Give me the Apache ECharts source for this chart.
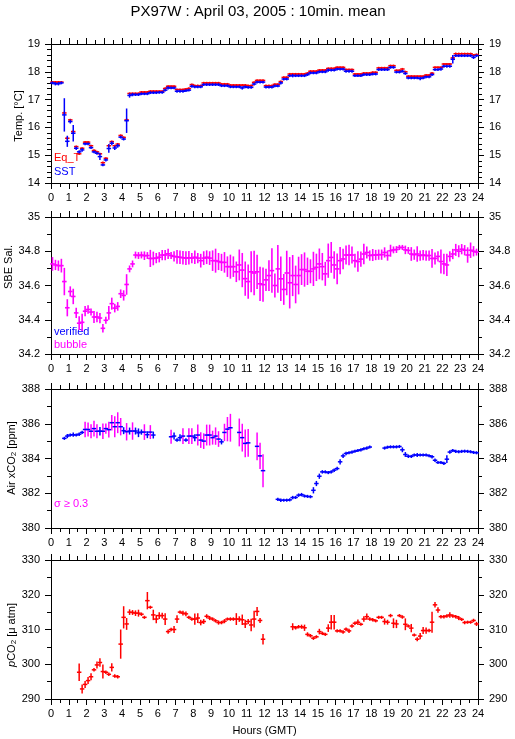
<!DOCTYPE html>
<html><head><meta charset="utf-8">
<script src="https://cdn.jsdelivr.net/npm/echarts@6/dist/echarts.min.js"></script>
<style>html,body{margin:0;padding:0;background:#fff}#c{width:515px;height:739px}</style>
</head><body><div id="c"></div>
<script>
// ---- data: 10-minute means, index i -> bin centre (i+0.5)/6 hours GMT ----
const eqT = [
17.63,17.63,17.63,17.63,16.52,15.61,16.27,15.85,15.31,15.05,15.25,15.47,
15.47,15.34,15.17,15.12,15.05,14.73,14.89,15.34,15.49,15.34,15.40,15.71,
15.64,16.27,17.22,17.22,17.22,17.22,17.27,17.27,17.27,17.30,17.30,17.30,
17.30,17.30,17.40,17.48,17.48,17.48,17.36,17.36,17.36,17.38,17.40,17.54,
17.50,17.50,17.50,17.60,17.60,17.60,17.60,17.60,17.60,17.56,17.56,17.56,
17.52,17.52,17.52,17.52,17.52,17.52,17.50,17.50,17.62,17.69,17.69,17.69,
17.50,17.50,17.50,17.55,17.55,17.65,17.80,17.80,17.92,17.92,17.92,17.92,
17.92,17.92,17.95,18.02,18.02,18.02,18.06,18.06,18.06,18.12,18.12,18.12,
18.16,18.16,18.16,18.08,18.08,18.08,17.92,17.92,17.92,17.95,17.95,17.95,
17.98,17.98,18.14,18.14,18.14,18.14,18.22,18.22,18.05,18.05,18.10,18.00,
17.84,17.84,17.84,17.84,17.84,17.84,17.88,17.88,17.95,18.16,18.16,18.16,
18.28,18.28,18.28,18.50,18.65,18.65,18.65,18.65,18.65,18.65,18.60,18.62];
const eqTErr = [
0.04,0.04,0.04,0.04,0.05,0.05,0.04,0.05,0.04,0.04,0.04,0.04,
0.04,0.04,0.04,0.04,0.04,0.04,0.04,0.05,0.04,0.04,0.04,0.04,
0.04,0.05,0.04,0.04,0.04,0.04,0.04,0.04,0.04,0.04,0.04,0.04,
0.04,0.04,0.04,0.04,0.04,0.04,0.04,0.04,0.04,0.04,0.04,0.04,
0.04,0.04,0.04,0.04,0.04,0.04,0.04,0.04,0.04,0.04,0.04,0.04,
0.04,0.04,0.04,0.04,0.04,0.04,0.04,0.04,0.04,0.04,0.04,0.04,
0.04,0.04,0.04,0.04,0.04,0.04,0.04,0.04,0.04,0.04,0.04,0.04,
0.04,0.04,0.04,0.04,0.04,0.04,0.04,0.04,0.04,0.04,0.04,0.04,
0.04,0.04,0.04,0.04,0.04,0.04,0.04,0.04,0.04,0.04,0.04,0.04,
0.04,0.04,0.04,0.04,0.04,0.04,0.04,0.04,0.04,0.04,0.04,0.04,
0.04,0.04,0.04,0.04,0.04,0.04,0.04,0.04,0.04,0.04,0.04,0.04,
0.04,0.04,0.04,0.04,0.04,0.04,0.04,0.04,0.04,0.04,0.04,0.04];
const sst = [
17.60,17.57,17.57,17.60,16.45,15.50,16.21,15.79,15.25,15.12,15.19,15.41,
15.41,15.27,15.12,15.07,14.95,14.65,14.83,15.24,15.43,15.26,15.34,15.65,
15.58,16.24,17.15,17.18,17.18,17.18,17.21,17.21,17.21,17.25,17.25,17.25,
17.26,17.26,17.34,17.42,17.42,17.42,17.30,17.30,17.30,17.32,17.34,17.48,
17.46,17.46,17.46,17.54,17.54,17.54,17.54,17.54,17.54,17.50,17.50,17.50,
17.46,17.46,17.46,17.46,17.42,17.46,17.44,17.44,17.56,17.63,17.63,17.63,
17.45,17.45,17.45,17.49,17.49,17.60,17.74,17.74,17.86,17.86,17.86,17.86,
17.86,17.86,17.90,17.96,17.96,17.96,18.00,18.00,18.00,18.06,18.06,18.06,
18.10,18.10,18.10,18.02,18.02,18.02,17.86,17.86,17.86,17.90,17.90,17.90,
17.92,17.92,18.08,18.08,18.08,18.08,18.16,18.16,17.99,17.99,18.02,17.94,
17.78,17.78,17.78,17.78,17.76,17.78,17.82,17.82,17.90,18.08,18.08,18.10,
18.20,18.20,18.20,18.45,18.58,18.58,18.58,18.58,18.58,18.58,18.52,18.58];
const sstErr = [
0.05,0.06,0.06,0.05,0.60,0.20,0.07,0.30,0.06,0.06,0.07,0.05,
0.05,0.05,0.05,0.05,0.12,0.05,0.06,0.15,0.07,0.07,0.07,0.05,
0.05,0.44,0.08,0.06,0.05,0.05,0.05,0.05,0.05,0.05,0.05,0.05,
0.05,0.05,0.05,0.06,0.05,0.05,0.05,0.05,0.05,0.05,0.05,0.05,
0.05,0.05,0.05,0.05,0.05,0.05,0.05,0.05,0.05,0.05,0.05,0.05,
0.05,0.05,0.05,0.05,0.06,0.05,0.05,0.05,0.05,0.05,0.05,0.05,
0.05,0.05,0.05,0.05,0.05,0.06,0.05,0.05,0.05,0.06,0.05,0.05,
0.05,0.05,0.05,0.05,0.05,0.05,0.05,0.05,0.05,0.06,0.05,0.05,
0.05,0.05,0.05,0.05,0.05,0.05,0.05,0.05,0.05,0.05,0.05,0.05,
0.05,0.05,0.05,0.05,0.05,0.05,0.05,0.05,0.05,0.05,0.05,0.05,
0.05,0.05,0.05,0.05,0.06,0.05,0.05,0.05,0.05,0.05,0.05,0.06,
0.05,0.05,0.05,0.15,0.05,0.05,0.05,0.05,0.05,0.05,0.06,0.05];
const sal = [
34.726,34.720,34.716,34.716,34.623,34.470,34.565,34.536,34.440,34.380,34.385,34.450,
34.460,34.445,34.416,34.416,34.410,34.350,34.397,34.440,34.494,34.468,34.478,34.552,
34.542,34.606,34.697,34.726,34.778,34.775,34.778,34.774,34.775,34.758,34.758,34.760,
34.765,34.778,34.778,34.785,34.775,34.770,34.767,34.765,34.762,34.760,34.762,34.760,
34.765,34.760,34.745,34.760,34.765,34.760,34.745,34.745,34.740,34.735,34.735,34.710,
34.710,34.710,34.680,34.720,34.690,34.640,34.623,34.680,34.673,34.680,34.610,34.605,
34.633,34.658,34.687,34.600,34.697,34.639,34.577,34.673,34.616,34.658,34.606,34.658,
34.693,34.693,34.683,34.683,34.697,34.706,34.726,34.710,34.668,34.745,34.764,34.720,
34.697,34.745,34.755,34.778,34.778,34.778,34.745,34.740,34.754,34.784,34.793,34.775,
34.778,34.778,34.780,34.780,34.793,34.775,34.803,34.808,34.810,34.822,34.822,34.808,
34.805,34.784,34.780,34.784,34.775,34.778,34.775,34.775,34.758,34.758,34.770,34.740,
34.726,34.720,34.770,34.784,34.808,34.800,34.812,34.806,34.778,34.806,34.800,34.795];
const salErr = [
0.04,0.03,0.03,0.04,0.08,0.05,0.03,0.045,0.03,0.04,0.05,0.03,
0.025,0.02,0.035,0.03,0.03,0.025,0.02,0.04,0.035,0.025,0.025,0.025,
0.03,0.06,0.02,0.02,0.02,0.02,0.02,0.025,0.02,0.05,0.04,0.03,
0.03,0.03,0.03,0.03,0.02,0.03,0.04,0.04,0.04,0.04,0.04,0.03,
0.04,0.03,0.04,0.04,0.04,0.04,0.06,0.07,0.05,0.05,0.06,0.06,
0.07,0.06,0.06,0.09,0.10,0.10,0.10,0.12,0.13,0.10,0.10,0.10,
0.065,0.09,0.13,0.07,0.14,0.13,0.09,0.13,0.15,0.12,0.11,0.11,
0.09,0.10,0.08,0.07,0.10,0.08,0.09,0.08,0.07,0.10,0.09,0.08,
0.09,0.08,0.06,0.055,0.06,0.05,0.04,0.06,0.045,0.06,0.035,0.03,
0.035,0.03,0.03,0.03,0.03,0.03,0.035,0.02,0.02,0.015,0.015,0.025,
0.02,0.04,0.03,0.045,0.03,0.03,0.03,0.03,0.055,0.035,0.03,0.07,
0.06,0.065,0.03,0.03,0.035,0.035,0.03,0.03,0.045,0.045,0.03,0.02];
const airCO2 = [
null,null,null,null,385.16,385.29,385.35,385.37,385.35,385.40,385.50,385.67,
385.67,385.57,385.72,385.57,385.57,385.57,385.72,385.66,386.06,385.83,386.06,385.83,
385.60,385.54,385.58,385.58,385.58,385.48,385.52,385.52,385.37,385.52,385.35,null,
null,null,null,null,385.25,385.29,385.06,385.20,385.29,385.06,385.29,385.29,
385.20,385.35,385.06,385.00,385.35,385.35,385.20,385.29,385.12,384.96,385.50,385.69,
385.77,null,null,385.50,385.20,384.87,384.90,null,null,384.70,384.15,383.30,
null,null,null,null,381.65,381.60,381.60,381.60,381.62,381.75,381.76,381.89,
381.92,381.84,381.82,381.80,382.17,382.56,382.98,383.23,383.23,383.19,383.23,383.33,
383.42,383.81,384.15,384.29,384.33,384.37,384.42,384.46,384.50,384.56,384.60,384.66,
null,null,null,null,384.60,384.65,384.67,384.67,384.67,384.69,384.50,384.23,
384.13,384.12,384.20,384.20,384.20,384.20,384.20,384.16,384.10,383.90,383.77,383.77,
383.72,383.96,384.37,384.46,384.41,384.39,384.41,384.42,384.41,384.39,384.35,384.33];
const airErr = [
null,null,null,null,0.09,0.12,0.09,0.12,0.09,0.10,0.09,0.45,
0.40,0.40,0.45,0.40,0.25,0.45,0.30,0.45,0.45,0.60,0.60,0.50,
0.20,0.50,0.20,0.50,0.20,0.25,0.15,0.45,0.20,0.40,0.20,null,
null,null,null,null,0.40,0.20,0.10,0.20,0.45,0.10,0.45,0.45,
0.20,0.60,0.45,0.45,0.60,0.60,0.40,0.50,0.45,0.15,0.50,0.70,
0.80,null,null,0.80,0.80,0.80,0.80,null,null,0.80,0.75,0.95,
null,null,null,null,0.09,0.10,0.09,0.09,0.09,0.10,0.09,0.10,
0.10,0.09,0.09,0.09,0.18,0.15,0.15,0.10,0.09,0.09,0.09,0.10,
0.10,0.15,0.12,0.10,0.09,0.09,0.09,0.09,0.09,0.09,0.09,0.09,
null,null,null,null,0.09,0.09,0.09,0.09,0.09,0.09,0.14,0.14,
0.10,0.09,0.09,0.11,0.09,0.09,0.09,0.09,0.10,0.10,0.09,0.09,
0.09,0.22,0.10,0.09,0.09,0.09,0.09,0.09,0.09,0.09,0.09,0.09];
const pco2 = [
null,null,null,null,null,null,null,null,null,297.7,292.9,294.2,
295.3,296.4,298.4,299.8,300.5,297.9,297.7,297.1,299.1,296.6,296.4,305.8,
313.5,311.6,315.0,314.9,314.7,314.7,314.4,313.5,318.3,316.4,314.2,313.0,
314.0,314.0,313.0,309.4,310.0,310.0,313.0,315.0,314.7,314.5,313.5,313.0,
313.0,313.3,312.0,312.3,313.8,313.3,313.0,312.5,312.0,312.0,312.4,313.0,
313.0,313.0,313.0,313.0,312.8,311.6,312.3,311.3,313.0,315.2,312.6,307.2,
null,null,null,null,null,null,null,null,null,310.8,310.5,310.8,
310.8,310.5,308.6,308.2,307.5,307.9,309.4,308.9,308.6,310.4,312.1,312.1,
309.6,309.6,309.3,310.1,309.6,311.0,311.8,312.1,311.5,313.0,313.7,313.0,
312.8,312.5,313.5,313.5,312.3,312.1,314.0,311.8,311.6,314.0,313.6,311.5,
311.0,310.4,308.4,307.2,308.1,309.7,309.7,309.7,312.1,317.1,315.6,313.7,
313.7,313.9,314.2,313.9,313.7,313.3,312.9,312.0,312.1,312.1,312.6,311.6];
const pco2Err = [
null,null,null,null,null,null,null,null,null,2.5,1.3,1.0,
1.0,1.0,0.5,1.0,1.2,2.0,0.5,0.5,1.2,0.5,0.5,4.2,
3.2,1.7,0.8,0.7,0.8,1.0,0.5,0.45,2.5,0.45,1.5,1.2,
1.0,0.8,1.7,0.6,0.5,1.0,1.1,0.45,0.7,0.7,0.45,0.45,
1.6,1.4,0.8,0.7,0.6,0.6,0.5,0.5,0.6,0.5,0.6,0.45,
0.5,0.5,1.7,0.8,1.5,1.2,0.7,1.8,2.4,1.3,0.7,1.5,
null,null,null,null,null,null,null,null,null,1.0,0.5,0.5,
0.6,0.9,0.6,0.5,0.5,0.45,0.8,0.5,0.45,1.1,2.1,2.1,
0.45,0.45,0.5,0.5,0.6,0.5,0.5,0.8,0.45,0.8,0.9,0.5,
0.5,0.45,0.45,0.45,0.9,0.7,0.5,1.4,1.2,0.45,0.5,1.7,
0.45,1.2,0.45,0.6,0.9,1.0,0.9,0.5,3.0,0.8,0.8,0.5,
0.5,0.5,0.8,0.5,0.5,0.6,0.45,0.5,0.45,0.45,0.5,0.6];
const sigmaLimit = 0.3;
const titleText = 'PX97W : April 03, 2005 : 10min. mean';

// ---- build ----
const FONT = '"Liberation Sans", Arial, Helvetica, sans-serif';
function toData(vals, errs) {
  const out = [];
  vals.forEach((v, i) => { if (v !== null) out.push([(i + 0.5) / 6, v, errs[i]]); });
  return out;
}
function crossSeries(idx, data, hColor, vColorFn, lw) {
  return {
    type: 'custom', xAxisIndex: idx * 2, yAxisIndex: idx * 2, data: data,
    encode: { x: 0, y: 1 }, silent: true,
    renderItem: function (params, api) {
      const t = api.value(0), v = api.value(1), e = api.value(2);
      const h = 1 / 12;
      const a = api.coord([t - h, v]), b = api.coord([t + h, v]);
      const c = api.coord([t, v + e]), d = api.coord([t, v - e]);
      return { type: 'group', children: [
        { type: 'line', shape: { x1: c[0], y1: c[1], x2: d[0], y2: d[1] }, style: { stroke: vColorFn(e), lineWidth: lw } },
        { type: 'line', shape: { x1: a[0], y1: a[1], x2: b[0], y2: b[1] }, style: { stroke: hColor, lineWidth: lw, lineCap: 'square' } }
      ]};
    }
  };
}
const grids = [
  { left: 51, right: 37, top: 44, height: 139 },
  { left: 51, right: 37, top: 217, height: 137 },
  { left: 51, right: 37, top: 389, height: 139 },
  { left: 51, right: 37, top: 560, height: 139 }
];
const yCfg = [
  { min: 14, max: 19, interval: 1, minor: 5 },
  { min: 34.2, max: 35, interval: 0.2, minor: 2 },
  { min: 380, max: 388, interval: 2, minor: 2 },
  { min: 290, max: 330, interval: 10, minor: 2 }
];
const lineStyle = { color: '#000', width: 1 };
const xAxes = [], yAxes = [];
grids.forEach((g, i) => {
  const base = {
    type: 'value', gridIndex: i, min: 0, max: 24, interval: 1,
    axisLine: { show: true, onZero: false, lineStyle },
    axisTick: { show: true, inside: false, length: 6, lineStyle },
    minorTick: { show: true, splitNumber: 2, length: 4, lineStyle },
    splitLine: { show: false }, minorSplitLine: { show: false }
  };
  xAxes.push(Object.assign({}, base, { position: 'bottom',
    axisLabel: { show: true, color: '#000', fontFamily: FONT, fontSize: 11, margin: 9 },
    name: i === 3 ? 'Hours (GMT)' : '', nameLocation: 'middle', nameGap: 26,
    nameTextStyle: { color: '#000', fontFamily: FONT, fontSize: 11 } }));
  xAxes.push(Object.assign({}, base, { position: 'top', axisLabel: { show: false } }));
  const y = yCfg[i];
  const ybase = {
    type: 'value', gridIndex: i, min: y.min, max: y.max, interval: y.interval,
    axisLine: { show: true, onZero: false, lineStyle },
    axisTick: { show: true, inside: false, length: 6, lineStyle },
    minorTick: { show: true, splitNumber: y.minor, length: 4, lineStyle },
    splitLine: { show: false }, minorSplitLine: { show: false },
    axisLabel: { show: true, color: '#000', fontFamily: FONT, fontSize: 11, margin: 11 }
  };
  yAxes.push(Object.assign({}, ybase, { position: 'left' }));
  yAxes.push(Object.assign({}, ybase, { position: 'right' }));
});

const RED = '#ff0000', BLUE = '#0000ff', MAG = '#ff00ff';
const series = [
  crossSeries(0, toData(eqT, eqTErr), RED, () => RED, 1.5),
  crossSeries(0, toData(sst, sstErr), BLUE, () => BLUE, 1.5),
  crossSeries(1, toData(sal, salErr), MAG, () => MAG, 1.6),
  crossSeries(2, toData(airCO2, airErr), BLUE, e => (e >= sigmaLimit ? MAG : BLUE), 1.5),
  crossSeries(3, toData(pco2, pco2Err), RED, () => RED, 1.5)
];

function txt(x, y, text, color, opts) {
  return Object.assign({ type: 'text', x: x, y: y, silent: true,
    style: Object.assign({ text: text, fill: color, font: '11px ' + FONT, align: 'left', verticalAlign: 'middle' }, opts || {}) });
}
function ytitle(x, y, text, rich) {
  return { type: 'text', x: x, y: y, rotation: Math.PI / 2, silent: true,
    style: { text: text, fill: '#000', font: '11px ' + FONT, align: 'center', verticalAlign: 'middle', rich: rich || {} } };
}
const rich = {
  s: { fontSize: 8, fontFamily: FONT, verticalAlign: 'bottom', padding: [4, 0, 0, 0], fill: '#000' },
  i: { fontSize: 11, fontFamily: FONT, fontStyle: 'italic', fill: '#000' },
  n: { fontSize: 11, fontFamily: FONT, fill: '#000' }
};
const graphics = [
  { type: 'text', x: 258, y: 12, silent: true, style: { text: titleText, fill: '#000', font: '15px ' + FONT, align: 'center', verticalAlign: 'middle' } },
  ytitle(18.5, 116, 'Temp. [°C]'),
  ytitle(8.5, 267, 'SBE Sal.'),
  ytitle(12, 458, '{n|Air xCO}{s|2}{n| [ppm]}', rich),
  ytitle(12, 635, '{i|p}{n|CO}{s|2}{n| [μ atm]}', rich),
  txt(54, 158, 'Eq_T', RED),
  txt(54, 172, 'SST', BLUE),
  txt(54, 332, 'verified', BLUE),
  txt(54, 345, 'bubble', MAG),
  txt(54, 504, 'σ ≥ 0.3', MAG)
];

const chart = echarts.init(document.getElementById('c'), null, { renderer: 'canvas' });
chart.setOption({
  animation: false, backgroundColor: '#fff',
  grid: grids, xAxis: xAxes, yAxis: yAxes, series: series, graphic: graphics
});
</script></body></html>
